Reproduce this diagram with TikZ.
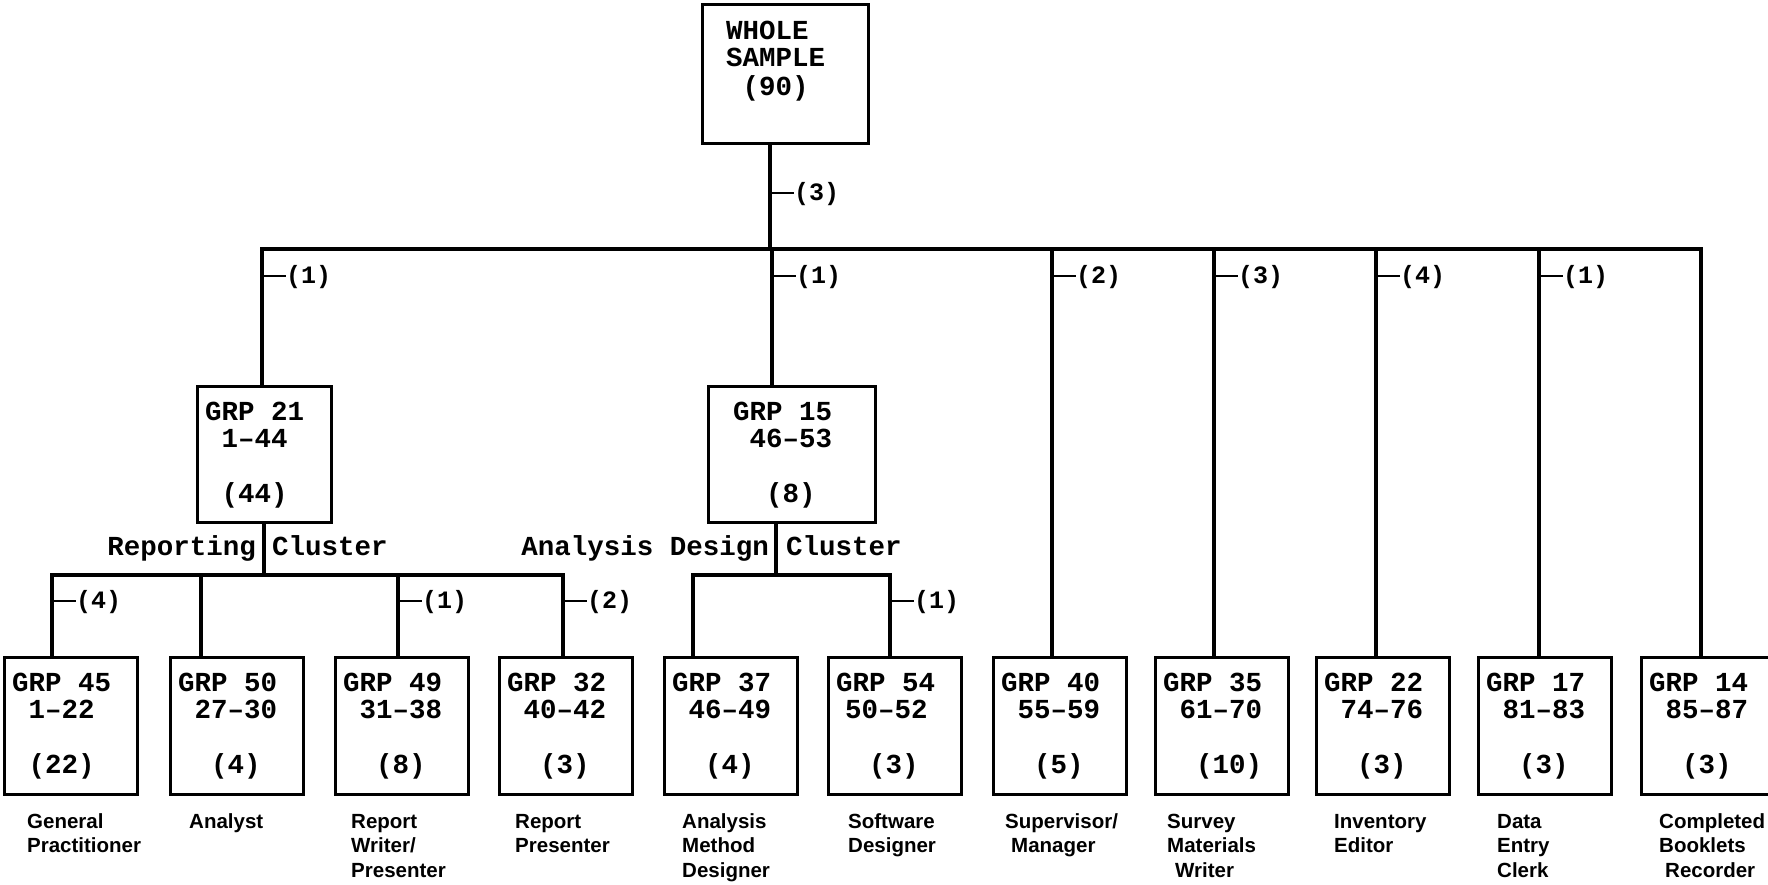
\documentclass[tikz,border=0pt]{standalone}
\usepackage{fontspec}
\newfontfamily\monofam{Liberation Mono}
\newfontfamily\sansfam{Liberation Sans}
\newcommand\ind{\hspace*{16.5pt}}
\newcommand\tick{\rule[6.5pt]{24pt}{2.4pt}}
\newcommand\lines[1]{\begin{tabular}[t]{@{}l@{}}#1\end{tabular}}
\tikzset{
  wire/.style={line width=3.2pt},
  box/.style={draw, line width=3.2pt, inner sep=0pt, anchor=north west, minimum height=137pt, minimum width=133pt},
  btxt/.style={font=\monofam\bfseries\fontsize{27.5}{27}\selectfont, anchor=base west, inner sep=0pt},
  role/.style={font=\sansfam\bfseries\fontsize{20.5}{24.8}\selectfont, anchor=base west, inner sep=0pt},
  lbl/.style={font=\monofam\bfseries\fontsize{25}{25}\selectfont, anchor=west, inner sep=0pt},
}
\begin{document}
\begin{tikzpicture}[x=1pt,y=-1pt]
\useasboundingbox (0,0) rectangle (1768,885);
\clip (0,0) rectangle (1768,885);

% top box
\node[box, minimum width=166pt, minimum height=139pt] (ws) at (701,3) {};
\node[btxt] (wst) at (726,40) {\lines{WHOLE\\SAMPLE\\\ind(90)}};

% middle boxes
\node[box, minimum width=134pt, minimum height=136pt] (g21) at (196,385) {};
\node[btxt] (g21t) at (205,420) {\lines{GRP 21\\\ind 1–44\\\\\ind(44)}};
\node[box, minimum width=167pt, minimum height=136pt] (g15) at (707,385) {};
\node[btxt] (g15t) at (733,420) {\lines{GRP 15\\\ind 46–53\\\\\ind\ind(8)}};

% bottom boxes
\node[box] (g45) at (3,656) {};
\node[btxt] (g45t) at (12,691) {\lines{GRP 45\\\ind 1–22\\\\\ind(22)}};
\node[box] (g50) at (169,656) {};
\node[btxt] (g50t) at (178,691) {\lines{GRP 50\\\ind 27–30\\\\\ind\ind(4)}};
\node[box] (g49) at (334,656) {};
\node[btxt] (g49t) at (343,691) {\lines{GRP 49\\\ind 31–38\\\\\ind\ind(8)}};
\node[box] (g32) at (498,656) {};
\node[btxt] (g32t) at (507,691) {\lines{GRP 32\\\ind 40–42\\\\\ind\ind(3)}};
\node[box] (g37) at (663,656) {};
\node[btxt] (g37t) at (672,691) {\lines{GRP 37\\\ind 46–49\\\\\ind\ind(4)}};
\node[box] (g54) at (827,656) {};
\node[btxt] (g54t) at (836,691) {\lines{GRP 54\\\hspace*{9pt}50–52\\\\\ind\ind(3)}};
\node[box] (g40) at (992,656) {};
\node[btxt] (g40t) at (1001,691) {\lines{GRP 40\\\ind 55–59\\\\\ind\ind(5)}};
\node[box] (g35) at (1154,656) {};
\node[btxt] (g35t) at (1163,691) {\lines{GRP 35\\\ind 61–70\\\\\ind\ind(10)}};
\node[box] (g22) at (1315,656) {};
\node[btxt] (g22t) at (1324,691) {\lines{GRP 22\\\ind 74–76\\\\\ind\ind(3)}};
\node[box] (g17) at (1477,656) {};
\node[btxt] (g17t) at (1486,691) {\lines{GRP 17\\\ind 81–83\\\\\ind\ind(3)}};
\node[box] (g14) at (1640,656) {};
\node[btxt] (g14t) at (1649,691) {\lines{GRP 14\\\ind 85–87\\\\\ind\ind(3)}};

% role labels
\node[role] (r1) at (27,828) {\lines{General\\Practitioner}};
\node[role] (r2) at (189,828) {\lines{Analyst}};
\node[role] (r3) at (351,828) {\lines{Report\\Writer/\\Presenter}};
\node[role] (r4) at (515,828) {\lines{Report\\Presenter}};
\node[role] (r5) at (682,828) {\lines{Analysis\\Method\\Designer}};
\node[role] (r6) at (848,828) {\lines{Software\\Designer}};
\node[role] (r7) at (1005,828) {\lines{Supervisor/\\\hspace*{6pt}Manager}};
\node[role] (r8) at (1167,828) {\lines{Survey\\Materials\\\hspace*{8pt}Writer}};
\node[role] (r9) at (1334,828) {\lines{Inventory\\Editor}};
\node[role] (r10) at (1497,828) {\lines{Data\\Entry\\Clerk}};
\node[role] (r11) at (1659,828) {\lines{Completed\\Booklets\\\hspace*{6pt}Recorder}};

% top level connectors
\coordinate (t0) at (770,249);
\draw[wire] (ws.south -| t0) -- (t0);
\node[lbl] (l0) at (770,194) {\tick(3)};
\coordinate (b21) at (262,249);
\coordinate (b15) at (772,249);
\coordinate (b40) at (1052,249);
\coordinate (b35) at (1214,249);
\coordinate (b22) at (1376,249);
\coordinate (b17) at (1539,249);
\coordinate (b14) at (1701,249);
\draw[wire] (g21.north -| b21) -- (b21) -- (b14) -- (b14 |- g14.north);
\foreach \b/\g in {b15/g15, b40/g40, b35/g35, b22/g22, b17/g17}
  \draw[wire] (\b) -- (\b |- \g.north);
\node[lbl] (l21) at (262,277) {\tick(1)};
\node[lbl] (l15) at (772,277) {\tick(1)};
\node[lbl] (l40) at (1052,277) {\tick(2)};
\node[lbl] (l35) at (1214,277) {\tick(3)};
\node[lbl] (l22) at (1376,277) {\tick(4)};
\node[lbl] (l17) at (1539,277) {\tick(1)};

% reporting cluster
\coordinate (r0) at (264,575);
\draw[wire] (g21.south -| r0) -- (r0);
\coordinate (r45) at (52,575);
\coordinate (r50) at (201,575);
\coordinate (r49) at (398,575);
\coordinate (r32) at (563,575);
\draw[wire] (g45.north -| r45) -- (r45) -- (r32) -- (r32 |- g32.north);
\draw[wire] (r50) -- (r50 |- g50.north);
\draw[wire] (r49) -- (r49 |- g49.north);
\node[lbl] (l45) at (52,602) {\tick(4)};
\node[lbl] (l49) at (398,602) {\tick(1)};
\node[lbl] (l32) at (563,602) {\tick(2)};
\node[btxt, anchor=base east] (c1) at (256,555) {Reporting};
\node[btxt] (c2) at (272,555) {Cluster};

% analysis design cluster
\coordinate (a0) at (776,575);
\draw[wire] (g15.south -| a0) -- (a0);
\coordinate (a37) at (693,575);
\coordinate (a54) at (890,575);
\draw[wire] (g37.north -| a37) -- (a37) -- (a54) -- (a54 |- g54.north);
\node[lbl] (l54) at (890,602) {\tick(1)};
\node[btxt, anchor=base east] (c3) at (769,555) {Analysis Design};
\node[btxt] (c4) at (786,555) {Cluster};
\end{tikzpicture}
\end{document}
